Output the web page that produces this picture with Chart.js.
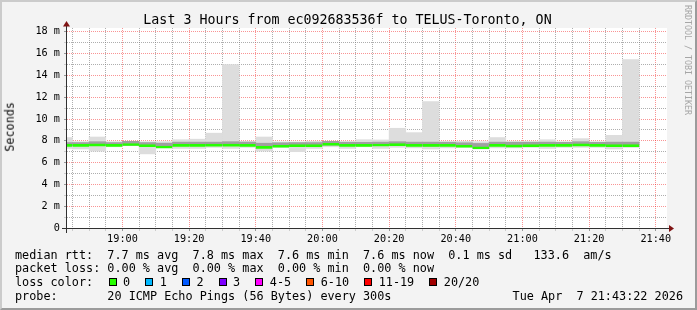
<!DOCTYPE html>
<html><head><meta charset="utf-8">
<script src="https://cdn.jsdelivr.net/npm/chart.js@4"></script>
<style>
html,body{margin:0;padding:0;background:#f3f3f3;}
#frame{position:absolute;left:0;top:0;width:697px;height:310px;box-sizing:border-box;background:#f3f3f3;border-style:solid;border-width:2px;border-color:#cbcbcb #9b9b9b #9b9b9b #cbcbcb;}
canvas{position:absolute;left:0;top:0;}
.t{position:absolute;font-family:'DejaVu Sans Mono',monospace;color:#000;white-space:pre;line-height:1;}
#title{font-size:13.3px;left:0;width:695px;text-align:center;top:12.6px;}
.lg{font-size:11.8px;left:15px;}
.bx{position:absolute;width:8px;height:8px;box-sizing:border-box;border:1px solid #000;top:278px;}
#wm{font-size:8.3px;color:#a6a6a6;writing-mode:vertical-rl;left:683.3px;top:5px;}
#ylab{font-size:11.8px;writing-mode:vertical-rl;transform:rotate(180deg);left:4.6px;top:102px;}
</style></head>
<body>
<div id="frame"></div>
<canvas id="c" width="697" height="310"></canvas>
<div class="t" id="title">Last 3 Hours from ec092683536f to TELUS-Toronto, ON</div>
<div class="t" id="wm">RRDTOOL / TOBI OETIKER</div>
<div class="t" id="ylab">Seconds</div>
<div class="t lg" style="top:249.8px">median rtt:  7.7 ms avg  7.8 ms max  7.6 ms min  7.6 ms now  0.1 ms sd   133.6  am/s</div>
<div class="t lg" style="top:263.3px">packet loss: 0.00 % avg  0.00 % max  0.00 % min  0.00 % now</div>
<div class="t lg" style="top:276.8px">loss color:</div>
<div id="loss"></div>
<div class="t lg" style="top:290.8px">probe:       20 ICMP Echo Pings (56 Bytes) every 300s</div>
<div class="t lg" style="top:290.8px;left:auto;right:14px">Tue Apr  7 21:43:22 2026</div>
<script>
// ---- data ----
const stepStarts = ['18:40','18:45','18:50','18:55','19:00','19:05','19:10','19:15','19:20','19:25',
  '19:30','19:35','19:40','19:45','19:50','19:55','20:00','20:05','20:10','20:15',
  '20:20','20:25','20:30','20:35','20:40','20:45','20:50','20:55','21:00','21:05',
  '21:10','21:15','21:20','21:25','21:30'];
const medianRtt = [7.70,7.70,7.75,7.70,7.78,7.68,7.55,7.70,7.70,7.72,
  7.72,7.70,7.52,7.62,7.68,7.68,7.80,7.70,7.70,7.74,
  7.77,7.70,7.70,7.70,7.62,7.48,7.70,7.65,7.68,7.70,
  7.70,7.75,7.70,7.68,7.68];
const smokeLo = [7.30,7.25,7.05,7.45,7.55,6.80,7.40,7.30,7.30,7.40,
  7.30,7.40,7.05,7.40,7.00,7.30,7.45,7.30,7.45,7.30,
  7.40,7.35,7.25,7.35,7.40,7.25,7.35,7.35,7.40,7.30,
  7.40,7.40,7.40,7.25,7.40];
const smokeHi = [8.30,7.92,8.35,7.92,7.95,7.92,7.92,8.10,8.15,8.70,
  15.00,7.95,8.35,7.90,7.90,7.95,7.95,7.95,8.10,8.08,
  9.15,8.75,11.60,7.95,7.95,7.92,8.30,7.95,7.95,8.10,
  7.92,8.20,7.92,8.50,15.45];
const coreLo = [7.58,7.56,7.58,7.58,7.60,7.48,7.45,7.56,7.56,7.58,
  7.58,7.56,7.42,7.50,7.52,7.56,7.60,7.56,7.56,7.58,
  7.60,7.56,7.52,7.56,7.48,7.38,7.56,7.50,7.52,7.56,
  7.56,7.60,7.56,7.52,7.52];
const coreHi = [7.84,7.84,7.92,7.84,7.95,7.84,7.78,7.88,7.88,7.88,
  7.92,7.88,7.78,7.82,7.84,7.84,7.95,7.86,7.86,7.88,
  7.92,7.88,7.88,7.86,7.82,7.76,7.88,7.86,7.86,7.88,
  7.86,7.92,7.86,7.88,7.88];
const xTickLabels = ['19:00','19:20','19:40','20:00','20:20','20:40','21:00','21:20','21:40'];
const yTickLabels = ['0','2 m','4 m','6 m','8 m','10 m','12 m','14 m','16 m','18 m'];
const lossLabels = ['0','1','2','3','4-5','6-10','11-19','20/20'];
const lossColors = ['#26ff00','#00b8ff','#0059ff','#7e00ff','#ff00ff','#ff5500','#ff0000','#a10000'];

// ---- loss colour legend ----
(function(){
  const host = document.getElementById('loss');
  let x = 123;
  lossLabels.forEach((lab, i) => {
    const b = document.createElement('div');
    b.className = 'bx'; b.style.left = (x - 14.5) + 'px'; b.style.background = lossColors[i];
    host.appendChild(b);
    const t = document.createElement('div');
    t.className = 't lg'; t.style.left = x + 'px'; t.style.top = '276.8px'; t.textContent = lab;
    host.appendChild(t);
    x += lab.length * 7.1 + 29.6;
  });
})();

// ---- chart ----
const toMin = s => { const p = s.split(':').map(Number); return (p[0] - 18) * 60 + p[1]; };
const stepMid = stepStarts.map(s => toMin(s) + 2.5);
const X_MIN = 43 + 22 / 60, X_MAX = X_MIN + 180;
const MAJ = 'rgba(240,0,0,0.42)', MIN = 'rgba(120,120,120,0.6)';
const FONT = "'DejaVu Sans Mono', monospace";

const frame = {
  id: 'frame',
  beforeDraw(chart) {
    const { ctx, chartArea: a } = chart;
    ctx.save(); ctx.fillStyle = '#ffffff';
    ctx.fillRect(a.left, a.top, a.right - a.left, a.bottom - a.top);
    ctx.restore();
  },
  afterDraw(chart) {
    const { ctx, chartArea: a } = chart;
    ctx.save();
    ctx.strokeStyle = '#303030'; ctx.lineWidth = 1;
    ctx.beginPath();
    ctx.moveTo(a.left - 5, a.bottom + 0.5); ctx.lineTo(a.right + 3, a.bottom + 0.5);
    ctx.moveTo(a.left - 0.5, a.bottom + 5); ctx.lineTo(a.left - 0.5, a.top - 2);
    ctx.stroke();
    ctx.fillStyle = '#7f1414';
    ctx.beginPath();
    ctx.moveTo(a.right + 2, a.bottom - 3); ctx.lineTo(a.right + 7, a.bottom + 0.5); ctx.lineTo(a.right + 2, a.bottom + 4);
    ctx.closePath(); ctx.fill();
    ctx.beginPath();
    ctx.moveTo(a.left - 4, a.top - 1.5); ctx.lineTo(a.left - 0.5, a.top - 7); ctx.lineTo(a.left + 3, a.top - 1.5);
    ctx.closePath(); ctx.fill();
    ctx.restore();
  }
};

new Chart(document.getElementById('c'), {
  type: 'bar',
  data: {
    datasets: [
      { label: 'median rtt', data: stepMid.map((x, i) => ({ x, y: medianRtt[i] })),
        backgroundColor: 'rgba(0,0,0,0)', borderColor: '#26ff00',
        borderWidth: { top: 2.6, right: 0, bottom: 0, left: 0 }, borderSkipped: false, inflateAmount: 0,
        grouped: false, barPercentage: 1, categoryPercentage: 1 },
      { label: 'core', data: stepMid.map((x, i) => ({ x, y: [coreLo[i], coreHi[i]] })),
        backgroundColor: '#a0a0a0', borderWidth: 0,
        grouped: false, barPercentage: 1, categoryPercentage: 1 },
      { label: 'smoke', data: stepMid.map((x, i) => ({ x, y: [smokeLo[i], smokeHi[i]] })),
        backgroundColor: '#dddddd', borderWidth: 0,
        grouped: false, barPercentage: 1, categoryPercentage: 1 }
    ]
  },
  options: {
    responsive: false, animation: false, events: [],
    layout: { padding: { left: 0, top: 28, right: 30, bottom: 62 } },
    plugins: { legend: { display: false }, tooltip: { enabled: false }, title: { display: false } },
    scales: {
      x: {
        type: 'linear', min: X_MIN, max: X_MAX, offset: false, z: 1,
        afterBuildTicks: sc => { const t = []; for (let v = 45; v <= 220; v += 5) t.push({ value: v }); sc.ticks = t; },
        afterFit: sc => { sc.height = 20; },
        ticks: { autoSkip: false, maxRotation: 0, minRotation: 0, padding: 2, color: '#000',
          font: { family: FONT, size: 10.2 },
          callback: v => (v % 20 === 0 ? xTickLabels[(v - 60) / 20] : '') },
        grid: { offset: false, color: c => (c.tick && c.tick.value % 20 === 0 ? MAJ : MIN),
          lineWidth: 1, tickLength: 3, tickColor: c => (c.tick && c.tick.value % 20 === 0 ? '#999' : '#ccc') },
        border: { display: false, dash: [1, 1] }
      },
      y: {
        type: 'linear', min: 0, max: 18.35, z: 1,
        afterBuildTicks: sc => { const t = []; for (let v = 0; v <= 18; v++) t.push({ value: v }); sc.ticks = t; },
        afterFit: sc => { sc.width = 67; },
        ticks: { autoSkip: false, padding: 4, color: '#000', font: { family: FONT, size: 10.2 },
          callback: v => (v % 2 === 0 ? yTickLabels[v / 2] : '') },
        grid: { color: c => (c.tick && c.tick.value % 2 === 0 ? MAJ : MIN),
          lineWidth: 1, tickLength: 3, tickColor: c => (c.tick && c.tick.value % 2 === 0 ? '#999' : '#ccc') },
        border: { display: false, dash: [1, 1] }
      }
    }
  },
  plugins: [frame]
});
</script>
</body></html>
